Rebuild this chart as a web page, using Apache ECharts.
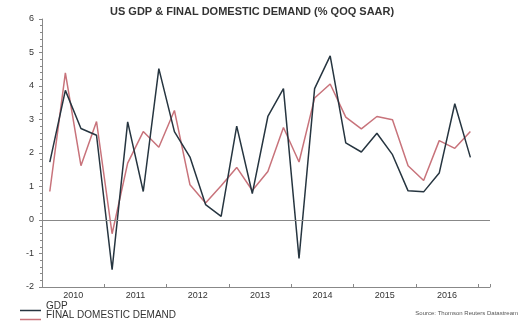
<!DOCTYPE html>
<html>
<head>
<meta charset="utf-8">
<script src="https://cdn.jsdelivr.net/npm/echarts@6/dist/echarts.min.js"></script>
<style>html,body{margin:0;padding:0;background:#fff}#c{width:526px;height:328px}</style>
</head>
<body>
<div id="c"></div>
<script>
var quarters = ["2010Q1","2010Q2","2010Q3","2010Q4","2011Q1","2011Q2","2011Q3","2011Q4",
  "2012Q1","2012Q2","2012Q3","2012Q4","2013Q1","2013Q2","2013Q3","2013Q4",
  "2014Q1","2014Q2","2014Q3","2014Q4","2015Q1","2015Q2","2015Q3","2015Q4",
  "2016Q1","2016Q2","2016Q3","2016Q4"];
var gdp = [1.73, 3.87, 2.73, 2.53, -1.48, 2.93, 0.85, 4.52, 2.64, 1.88, 0.46, 0.11, 2.80, 0.79, 3.09, 3.92,
  -1.15, 3.92, 4.90, 2.30, 2.03, 2.59, 1.95, 0.87, 0.84, 1.40, 3.47, 1.87];
var fdd = [0.85, 4.39, 1.62, 2.94, -0.41, 1.70, 2.64, 2.17, 3.27, 1.05, 0.51, 1.02, 1.57, 0.88, 1.45, 2.76,
  1.73, 3.64, 4.06, 3.07, 2.72, 3.09, 2.99, 1.62, 1.18, 2.37, 2.14, 2.64];
var yearLabels = [2010, 2011, 2012, 2013, 2014, 2015, 2016];

function qx(s){ return parseInt(s.slice(0,4),10) + (parseInt(s.slice(5),10) - 0.5) / 4; }
function pairs(vals){ return quarters.map(function(q,i){ return [qx(q), vals[i]]; }); }

var font = 'Liberation Sans, Arial, sans-serif';
var xMin = 2010, xMax = 2017.19;
function legendAt(name, top){
  return {
    orient: 'horizontal', left: 20, top: top, padding: 0,
    itemWidth: 21, itemHeight: 1.5, icon: 'rect',
    formatter: '{t|{name}}',
    textStyle: {fontFamily: font, fontSize: 10, color: '#333',
      rich: {t: {fontFamily: font, fontSize: 10, color: '#333', lineHeight: 12, padding: [0, 0, 9, 0]}}},
    data: [name]
  };
}
var chart = echarts.init(document.getElementById('c'));
chart.setOption({
  animation: false,
  title: {
    text: 'US GDP & FINAL DOMESTIC DEMAND (% QOQ SAAR)',
    left: 105, top: 1,
    textStyle: {fontFamily: font, fontSize: 11, fontWeight: 'bold', color: '#333'}
  },
  legend: [legendAt('GDP', 301), legendAt('FINAL DOMESTIC DEMAND', 310)],
  graphic: [{
    type: 'text', right: 8, top: 310,
    style: {text: 'Source: Thomson Reuters Datastream', font: '6px ' + font, fill: '#555'}
  }],
  grid: {left: 42, right: 36, top: 19, height: 268},
  xAxis: [{
    type: 'value', min: xMin, max: xMax,
    axisLine: {onZero: false, lineStyle: {color: '#888'}},
    axisTick: {show: false},
    axisLabel: {customValues: yearLabels.map(function(y){ return y + 0.5; }),
      formatter: function(v){ return String(Math.floor(v)); },
      fontFamily: font, fontSize: 9, color: '#333', margin: 4},
    splitLine: {show: false}
  }, {
    type: 'value', min: xMin, max: xMax, interval: 1, position: 'bottom',
    axisLine: {show: false, onZero: false},
    axisTick: {show: true, inside: true, length: 3, lineStyle: {color: '#888'}},
    axisLabel: {show: false},
    splitLine: {show: false}
  }],
  yAxis: {
    type: 'value', min: -2, max: 6, interval: 1,
    axisLine: {show: true, lineStyle: {color: '#888'}},
    axisTick: {show: true, length: 3, lineStyle: {color: '#888'}},
    minorTick: {show: true, splitNumber: 5, length: 2, lineStyle: {color: '#888'}},
    axisLabel: {fontFamily: font, fontSize: 9, color: '#333', margin: 8},
    splitLine: {show: false}
  },
  series: [{
    name: 'GDP', type: 'line', data: pairs(gdp), symbol: 'none',
    lineStyle: {color: '#263540', width: 1.5}, itemStyle: {color: '#263540'},
    z: 3,
    markLine: {silent: true, symbol: 'none', label: {show: false},
      lineStyle: {color: '#888', width: 1, type: 'solid'}, data: [{yAxis: 0}]}
  }, {
    name: 'FINAL DOMESTIC DEMAND', type: 'line', data: pairs(fdd), symbol: 'none',
    lineStyle: {color: '#c8737b', width: 1.5}, itemStyle: {color: '#c8737b'}, z: 2
  }]
});
</script>
</body>
</html>
